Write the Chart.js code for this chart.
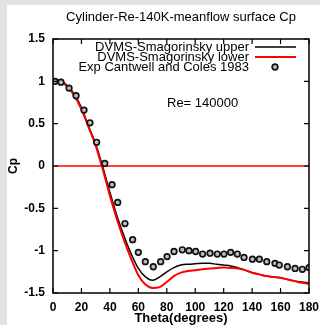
<!DOCTYPE html>
<html><head><meta charset="utf-8">
<script src="https://cdn.jsdelivr.net/npm/chart.js@4/dist/chart.umd.min.js"></script>
<style>html,body{margin:0;padding:0;overflow:hidden;background:#e2e2e2}
#wrap{position:absolute;left:0;top:0;width:320px;height:325px}
canvas{display:block}
</style></head><body><div id="wrap"><canvas id="c" width="320" height="325"></canvas></div>
<script>
const titleText = 'Cylinder-Re-140K-meanflow surface Cp';
const xTitle = 'Theta(degrees)';
const yTitle = 'Cp';
const annotationText = 'Re= 140000';
const xTicks = [0, 20, 40, 60, 80, 100, 120, 140, 160, 180];
const yTicks = [-1.5, -1, -0.5, 0, 0.5, 1, 1.5];
const seriesNames = ['DVMS-Smagorinsky upper', 'DVMS-Smagorinsky lower', 'Exp Cantwell and Coles 1983'];

const thetaSim = [0,5,10,15,20,25,30,35,40,45,50,55,60,65,70,75,80,85,90,95,100,105,110,115,120,125,130,135,140,145,150,155,160,165,170,175,180];
const cpUpper = [1.02,1.01,0.95,0.85,0.69,0.47,0.26,-0.01,-0.31,-0.59,-0.83,-1.04,-1.21,-1.31,-1.35,-1.31,-1.25,-1.20,-1.17,-1.16,-1.155,-1.15,-1.15,-1.16,-1.17,-1.18,-1.20,-1.23,-1.26,-1.28,-1.30,-1.31,-1.32,-1.34,-1.36,-1.37,-1.38];
const cpLower = [1.02,1.00,0.94,0.83,0.67,0.46,0.24,-0.04,-0.35,-0.63,-0.88,-1.10,-1.29,-1.40,-1.44,-1.43,-1.37,-1.30,-1.26,-1.24,-1.23,-1.22,-1.21,-1.205,-1.20,-1.205,-1.21,-1.23,-1.26,-1.28,-1.30,-1.31,-1.32,-1.34,-1.36,-1.38,-1.39];

const thetaExp = [1.4,5.6,11.3,16.2,21.8,26,30.7,36.4,41.5,45.5,50.6,56,60,64.9,70.5,75.7,80.2,85.1,90.9,95.6,100.3,105.2,110.4,115.5,120.2,124.9,129.6,134.3,140.2,145.1,150.3,156.1,159.1,164.8,170.2,175.3,180];
const cpExp = [1.0,0.99,0.92,0.83,0.66,0.51,0.28,0.03,-0.22,-0.43,-0.68,-0.87,-1.02,-1.13,-1.19,-1.13,-1.07,-1.01,-0.99,-1.0,-1.01,-1.04,-1.03,-1.04,-1.04,-1.02,-1.04,-1.08,-1.10,-1.10,-1.13,-1.15,-1.17,-1.19,-1.21,-1.22,-1.20];

const zeroTheta = [0, 180];
const zeroCp = [0, 0];

const FONT = '"Liberation Sans", Arial, Helvetica, sans-serif';
const pts = (xs, ys) => xs.map((x, i) => ({x: x, y: ys[i]}));

const bgPlugin = {
  id: 'bg',
  beforeDraw(chart) {
    const ctx = chart.ctx;
    ctx.save();
    ctx.fillStyle = '#e2e2e2';
    ctx.fillRect(0, 0, chart.width, chart.height);
    ctx.fillStyle = '#ffffff';
    ctx.fillRect(7, 5, chart.width - 7, chart.height - 5);
    ctx.restore();
  }
};

const framePlugin = {
  id: 'frame',
  afterDraw(chart) {
    const ctx = chart.ctx, a = chart.chartArea;
    const xs = chart.scales.x, ys = chart.scales.y;
    ctx.save();
    ctx.strokeStyle = '#000';
    ctx.lineWidth = 1.5;
    ctx.strokeRect(a.left, a.top, a.right - a.left, a.bottom - a.top);
    ctx.lineWidth = 1.2;
    const tl = 5;
    ctx.beginPath();
    xTicks.forEach(v => {
      const px = xs.getPixelForValue(v);
      ctx.moveTo(px, a.bottom); ctx.lineTo(px, a.bottom - tl);
      ctx.moveTo(px, a.top); ctx.lineTo(px, a.top + tl);
    });
    yTicks.forEach(v => {
      const py = ys.getPixelForValue(v);
      ctx.moveTo(a.left, py); ctx.lineTo(a.left + tl, py);
      ctx.moveTo(a.right, py); ctx.lineTo(a.right - tl, py);
    });
    ctx.stroke();

    // legend
    ctx.font = '13px ' + FONT;
    ctx.fillStyle = '#000';
    ctx.textAlign = 'right';
    ctx.textBaseline = 'middle';
    const rows = [47, 57, 67];
    chart.data.datasets.slice(0, 3).forEach((ds, i) => {
      const y = rows[i];
      ctx.fillText(ds.label, 249, y);
      if (ds.showLine) {
        ctx.strokeStyle = ds.borderColor;
        ctx.lineWidth = ds.borderWidth;
        ctx.beginPath(); ctx.moveTo(255, y); ctx.lineTo(296, y); ctx.stroke();
      } else {
        ctx.strokeStyle = ds.borderColor;
        ctx.fillStyle = ds.backgroundColor;
        ctx.lineWidth = ds.borderWidth;
        ctx.beginPath(); ctx.arc(275, y, ds.pointRadius, 0, Math.PI * 2); ctx.fill(); ctx.stroke();
        ctx.fillStyle = '#000';
      }
    });
    ctx.textAlign = 'left';
    ctx.fillText(annotationText, 167, 103);
    ctx.restore();
  }
};

new Chart(document.getElementById('c'), {
  type: 'scatter',
  data: {
    datasets: [
      {label: seriesNames[0], data: pts(thetaSim, cpUpper), showLine: true, borderColor: '#000000', backgroundColor: '#000000', borderWidth: 1.5, pointRadius: 0, cubicInterpolationMode: 'monotone', order: 2},
      {label: seriesNames[1], data: pts(thetaSim, cpLower), showLine: true, borderColor: '#ff0000', backgroundColor: '#ff0000', borderWidth: 2, pointRadius: 0, cubicInterpolationMode: 'monotone', order: 1},
      {label: seriesNames[2], data: pts(thetaExp, cpExp), showLine: false, borderColor: '#111111', backgroundColor: '#bdbdbd', borderWidth: 1.7, pointRadius: 2.8, pointStyle: 'circle', order: 0},
      {label: 'zero', data: pts(zeroTheta, zeroCp), showLine: true, borderColor: '#ff0000', borderWidth: 1.5, pointRadius: 0, order: 3}
    ]
  },
  options: {
    responsive: false,
    animation: false,
    devicePixelRatio: 1,
    layout: {padding: {left: 0, right: 11, top: 0, bottom: 0}},
    plugins: {
      legend: {display: false},
      tooltip: {enabled: false},
      title: {display: true, fullSize: false, text: titleText, color: '#000', font: {family: FONT, size: 13, weight: 'normal'}, padding: {top: 10, bottom: 13.4}}
    },
    scales: {
      x: {
        type: 'linear', min: 0, max: 180,
        afterBuildTicks: s => { s.ticks = xTicks.map(v => ({value: v})); },
        afterFit: s => { s.height = 32; s.paddingLeft = 0; s.paddingRight = 0; },
        grid: {display: false, drawTicks: false},
        border: {display: false},
        ticks: {color: '#000', font: {family: FONT, size: 12, weight: 'bold'}, padding: 7, maxRotation: 0, autoSkip: false},
        title: {display: true, text: xTitle, color: '#000', font: {family: FONT, size: 13, weight: 'bold'}, padding: {top: 0, bottom: -1}}
      },
      y: {
        type: 'linear', min: -1.5, max: 1.5,
        afterBuildTicks: s => { s.ticks = yTicks.map(v => ({value: v})); },
        afterFit: s => { s.width = 53; s.paddingTop = 0; s.paddingBottom = 0; },
        grid: {display: false, drawTicks: false},
        border: {display: false},
        ticks: {color: '#000', font: {family: FONT, size: 12, weight: 'bold'}, padding: 8, autoSkip: false, callback: v => String(v)},
        title: {display: true, text: yTitle, color: '#000', font: {family: FONT, size: 12, weight: 'bold'}, padding: {top: 6, bottom: 0}}
      }
    }
  },
  plugins: [bgPlugin, framePlugin]
});
</script></body></html>
